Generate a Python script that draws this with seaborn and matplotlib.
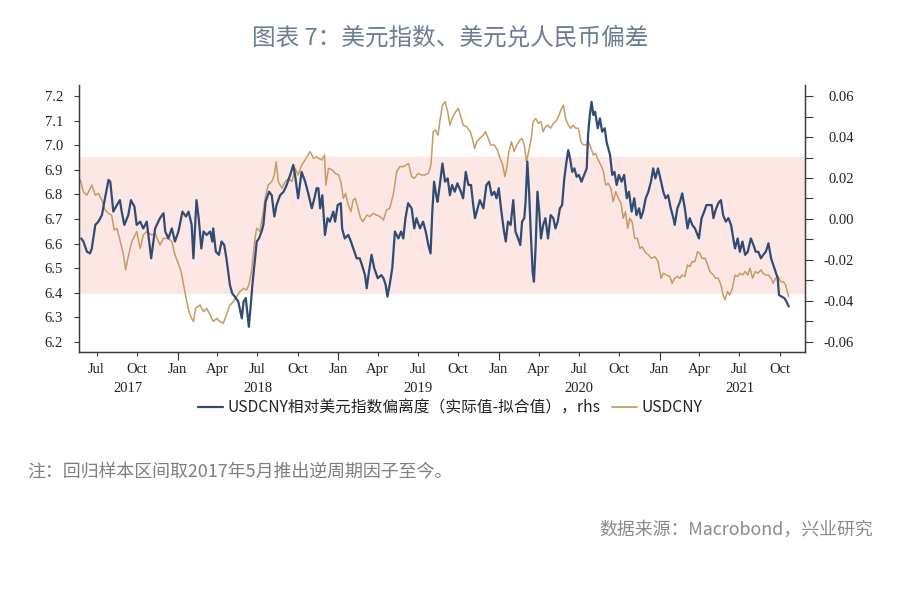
import pandas as pd
import matplotlib
matplotlib.use('Agg')
import matplotlib.pyplot as plt
import matplotlib.dates as mdates
import matplotlib.transforms as mtransforms
from matplotlib.ticker import MultipleLocator, FormatStrFormatter, NullFormatter
from matplotlib.lines import Line2D
import seaborn as sns

# ─── Data ────────────────────────────────────────────────────
# USDCNY deviation vs. dollar-index fit (actual - fitted), right axis
dev_dates = [
    '2017-05-27', '2017-06-01', '2017-06-09', '2017-06-16', '2017-06-20', '2017-06-28',
    '2017-07-05', '2017-07-13', '2017-07-20', '2017-07-28', '2017-08-01', '2017-08-08',
    '2017-08-16', '2017-08-23', '2017-08-27', '2017-09-02', '2017-09-11', '2017-09-17',
    '2017-09-25', '2017-09-30', '2017-10-08', '2017-10-15', '2017-10-23', '2017-11-02',
    '2017-11-11', '2017-11-22', '2017-11-30', '2017-12-04', '2017-12-11', '2017-12-19',
    '2017-12-26', '2018-01-03', '2018-01-12', '2018-01-20', '2018-01-26', '2018-02-02',
    '2018-02-06', '2018-02-13', '2018-02-18', '2018-02-24', '2018-03-01', '2018-03-08',
    '2018-03-16', '2018-03-21', '2018-03-23', '2018-03-29', '2018-04-05', '2018-04-11',
    '2018-04-17', '2018-04-22', '2018-04-26', '2018-04-30', '2018-05-05', '2018-05-11',
    '2018-05-19', '2018-05-27', '2018-05-31', '2018-06-05', '2018-06-09', '2018-06-12',
    '2018-06-17', '2018-06-20', '2018-06-26', '2018-06-30', '2018-07-05', '2018-07-11',
    '2018-07-15', '2018-07-20', '2018-07-28', '2018-08-03', '2018-08-09', '2018-08-14',
    '2018-08-22', '2018-08-30', '2018-09-06', '2018-09-14', '2018-09-21', '2018-09-25',
    '2018-10-02', '2018-10-10', '2018-10-18', '2018-10-25', '2018-11-02', '2018-11-08',
    '2018-11-13', '2018-11-17', '2018-11-21', '2018-11-26', '2018-12-02', '2018-12-08',
    '2018-12-13', '2018-12-21', '2018-12-25', '2018-12-31', '2019-01-07', '2019-01-10',
    '2019-01-16', '2019-01-24', '2019-01-30', '2019-02-07', '2019-02-12', '2019-02-19',
    '2019-02-24', '2019-03-03', '2019-03-07', '2019-03-12', '2019-03-18', '2019-03-24',
    '2019-04-01', '2019-04-09', '2019-04-14', '2019-04-19', '2019-04-23', '2019-04-28',
    '2019-05-04', '2019-05-10', '2019-05-18', '2019-05-24', '2019-05-29', '2019-06-03',
    '2019-06-09', '2019-06-17', '2019-06-23', '2019-06-28', '2019-07-06', '2019-07-13',
    '2019-07-19', '2019-07-25', '2019-07-30', '2019-08-03', '2019-08-07', '2019-08-13',
    '2019-08-15', '2019-08-20', '2019-08-26', '2019-09-01', '2019-09-07', '2019-09-12',
    '2019-09-17', '2019-09-23', '2019-09-29', '2019-10-07', '2019-10-12', '2019-10-18',
    '2019-10-24', '2019-10-30', '2019-11-04', '2019-11-08', '2019-11-14', '2019-11-19',
    '2019-11-27', '2019-12-04', '2019-12-10', '2019-12-16', '2019-12-22', '2019-12-27',
    '2020-01-01', '2020-01-07', '2020-01-13', '2020-01-17', '2020-01-22', '2020-01-28',
    '2020-02-03', '2020-02-08', '2020-02-14', '2020-02-19', '2020-02-23', '2020-02-28',
    '2020-03-02', '2020-03-06', '2020-03-10', '2020-03-14', '2020-03-18', '2020-03-21',
    '2020-03-25', '2020-03-29', '2020-04-02', '2020-04-06', '2020-04-11', '2020-04-16',
    '2020-04-22', '2020-04-28', '2020-05-04', '2020-05-09', '2020-05-14', '2020-05-19',
    '2020-05-24', '2020-05-29', '2020-06-03', '2020-06-07', '2020-06-11', '2020-06-16',
    '2020-06-21', '2020-06-26', '2020-07-01', '2020-07-07', '2020-07-13', '2020-07-19',
    '2020-07-22', '2020-07-26', '2020-07-30', '2020-08-03', '2020-08-07', '2020-08-13',
    '2020-08-18', '2020-08-23', '2020-08-29', '2020-09-02', '2020-09-10', '2020-09-15',
    '2020-09-20', '2020-09-25', '2020-09-30', '2020-10-06', '2020-10-12', '2020-10-18',
    '2020-10-23', '2020-10-29', '2020-11-04', '2020-11-09', '2020-11-15', '2020-11-19',
    '2020-11-24', '2020-11-30', '2020-12-06', '2020-12-12', '2020-12-17', '2020-12-22',
    '2020-12-28', '2021-01-04', '2021-01-09', '2021-01-14', '2021-01-20', '2021-01-26',
    '2021-02-01', '2021-02-04', '2021-02-10', '2021-02-16', '2021-02-21', '2021-02-27',
    '2021-03-05', '2021-03-10', '2021-03-16', '2021-03-22', '2021-03-28', '2021-03-31',
    '2021-04-06', '2021-04-12', '2021-04-17', '2021-04-23', '2021-04-29', '2021-05-03',
    '2021-05-08', '2021-05-14', '2021-05-20', '2021-05-25', '2021-05-31', '2021-06-06',
    '2021-06-12', '2021-06-17', '2021-06-21', '2021-06-27', '2021-07-02', '2021-07-08',
    '2021-07-14', '2021-07-20', '2021-07-27', '2021-08-02', '2021-08-07', '2021-08-13',
    '2021-08-19', '2021-08-24', '2021-08-30', '2021-09-05', '2021-09-11', '2021-09-16',
    '2021-09-21', '2021-09-26', '2021-09-29', '2021-10-05', '2021-10-11', '2021-10-16',
    '2021-10-21',
]
dev_values = [
    -0.0095, -0.0110, -0.0160, -0.0168, -0.0144, -0.0029,
    -0.0013, 0.0019, 0.0101, 0.0191, 0.0182, 0.0036,
    0.0068, 0.0092, 0.0036, -0.0029, 0.0019, 0.0092,
    0.0060, -0.0029, -0.0013, -0.0046, -0.0013, -0.0192,
    -0.0046, 0.0004, 0.0028, -0.0061, -0.0095, -0.0046,
    -0.0110, -0.0061, 0.0036, 0.0012, 0.0036, -0.0029,
    -0.0192, 0.0092, 0.0004, -0.0144, -0.0061, -0.0078,
    -0.0061, -0.0110, -0.0046, -0.0160, -0.0175, -0.0110,
    -0.0127, -0.0192, -0.0257, -0.0322, -0.0362, -0.0379,
    -0.0403, -0.0485, -0.0403, -0.0386, -0.0468, -0.0526,
    -0.0403, -0.0322, -0.0192, -0.0110, -0.0095, -0.0061,
    -0.0029, 0.0084, 0.0133, 0.0116, 0.0012, 0.0068,
    0.0116, 0.0133, 0.0166, 0.0215, 0.0264, 0.0215,
    0.0101, 0.0230, 0.0182, 0.0125, 0.0052, 0.0101,
    0.0150, 0.0150, 0.0052, 0.0116, -0.0078, 0.0004,
    -0.0013, 0.0036, -0.0013, 0.0068, 0.0077, -0.0046,
    -0.0095, -0.0078, -0.0110, -0.0160, -0.0192, -0.0192,
    -0.0224, -0.0274, -0.0338, -0.0257, -0.0175, -0.0240,
    -0.0289, -0.0274, -0.0289, -0.0322, -0.0379, -0.0322,
    -0.0240, -0.0061, -0.0095, -0.0061, -0.0095, 0.0004,
    0.0077, 0.0052, -0.0046, 0.0004, -0.0046, -0.0013,
    -0.0061, -0.0127, -0.0168, 0.0036, 0.0182, 0.0101,
    0.0084, 0.0166, 0.0271, 0.0182, 0.0198, 0.0116,
    0.0166, 0.0133, 0.0174, 0.0133, 0.0101, 0.0230,
    0.0166, 0.0166, 0.0068, 0.0004, 0.0052, 0.0092,
    0.0052, 0.0166, 0.0182, 0.0116, 0.0133, 0.0101,
    0.0150, 0.0036, -0.0061, -0.0110, -0.0013, -0.0029,
    0.0092, -0.0061, -0.0095, -0.0127, -0.0013, 0.0004,
    0.0084, 0.0280, 0.0133, -0.0078, -0.0257, -0.0306,
    -0.0127, 0.0133, 0.0036, -0.0095, -0.0029, 0.0004,
    -0.0095, 0.0019, 0.0004, -0.0046, -0.0013, 0.0052,
    0.0068, 0.0198, 0.0280, 0.0336, 0.0296, 0.0230,
    0.0247, 0.0206, 0.0215, 0.0182, 0.0215, 0.0247,
    0.0409, 0.0508, 0.0572, 0.0508, 0.0523, 0.0443,
    0.0491, 0.0426, 0.0443, 0.0377, 0.0312, 0.0215,
    0.0230, 0.0166, 0.0215, 0.0182, 0.0215, 0.0101,
    0.0133, 0.0036, 0.0101, 0.0019, 0.0052, 0.0004,
    0.0036, 0.0101, 0.0133, 0.0182, 0.0247, 0.0198,
    0.0247, 0.0182, 0.0133, 0.0101, 0.0116, 0.0052,
    0.0004, -0.0029, 0.0052, 0.0084, 0.0125, 0.0052,
    -0.0046, 0.0004, -0.0029, -0.0046, -0.0078, -0.0095,
    0.0004, 0.0036, 0.0068, 0.0068, 0.0068, 0.0004,
    0.0044, 0.0077, 0.0092, 0.0019, -0.0013, 0.0004,
    -0.0029, -0.0095, -0.0144, -0.0095, -0.0160, -0.0110,
    -0.0175, -0.0160, -0.0095, -0.0127, -0.0160, -0.0160,
    -0.0192, -0.0175, -0.0160, -0.0119, -0.0192, -0.0224,
    -0.0257, -0.0289, -0.0371, -0.0379, -0.0386, -0.0403,
    -0.0427,
]

# USDCNY spot, left axis
cny_dates = [
    '2017-05-25', '2017-06-01', '2017-06-09', '2017-06-20', '2017-06-28', '2017-07-05',
    '2017-07-13', '2017-07-20', '2017-07-28', '2017-08-04', '2017-08-10', '2017-08-16',
    '2017-08-23', '2017-08-31', '2017-09-05', '2017-09-10', '2017-09-19', '2017-09-30',
    '2017-10-08', '2017-10-15', '2017-10-23', '2017-11-03', '2017-11-11', '2017-11-22',
    '2017-11-30', '2017-12-11', '2017-12-19', '2017-12-26', '2018-01-04', '2018-01-09',
    '2018-01-14', '2018-01-22', '2018-01-27', '2018-02-02', '2018-02-06', '2018-02-11',
    '2018-02-21', '2018-03-01', '2018-03-08', '2018-03-16', '2018-03-23', '2018-03-31',
    '2018-04-07', '2018-04-15', '2018-04-22', '2018-04-30', '2018-05-08', '2018-05-15',
    '2018-05-23', '2018-05-31', '2018-06-07', '2018-06-12', '2018-06-18', '2018-06-26',
    '2018-06-30', '2018-07-07', '2018-07-15', '2018-07-19', '2018-07-26', '2018-08-03',
    '2018-08-09', '2018-08-13', '2018-08-18', '2018-08-26', '2018-09-03', '2018-09-10',
    '2018-09-18', '2018-09-25', '2018-10-02', '2018-10-10', '2018-10-18', '2018-10-29',
    '2018-11-06', '2018-11-13', '2018-11-17', '2018-11-25', '2018-12-01', '2018-12-04',
    '2018-12-10', '2018-12-18', '2018-12-25', '2019-01-02', '2019-01-07', '2019-01-13',
    '2019-01-18', '2019-01-24', '2019-01-30', '2019-02-04', '2019-02-09', '2019-02-15',
    '2019-02-21', '2019-02-26', '2019-03-07', '2019-03-14', '2019-03-22', '2019-03-29',
    '2019-04-06', '2019-04-14', '2019-04-21', '2019-04-28', '2019-05-06', '2019-05-14',
    '2019-05-21', '2019-05-29', '2019-06-05', '2019-06-10', '2019-06-17', '2019-06-23',
    '2019-07-02', '2019-07-09', '2019-07-17', '2019-07-25', '2019-07-31', '2019-08-05',
    '2019-08-10', '2019-08-16', '2019-08-20', '2019-08-26', '2019-09-01', '2019-09-07',
    '2019-09-12', '2019-09-17', '2019-09-23', '2019-10-01', '2019-10-07', '2019-10-12',
    '2019-10-20', '2019-10-28', '2019-11-02', '2019-11-07', '2019-11-12', '2019-11-19',
    '2019-11-27', '2019-12-02', '2019-12-08', '2019-12-14', '2019-12-22', '2019-12-29',
    '2020-01-04', '2020-01-10', '2020-01-15', '2020-01-19', '2020-01-24', '2020-01-30',
    '2020-02-05', '2020-02-11', '2020-02-18', '2020-02-23', '2020-02-28', '2020-03-04',
    '2020-03-09', '2020-03-15', '2020-03-19', '2020-03-25', '2020-03-31', '2020-04-06',
    '2020-04-11', '2020-04-16', '2020-04-22', '2020-04-28', '2020-05-04', '2020-05-09',
    '2020-05-14', '2020-05-23', '2020-05-27', '2020-06-01', '2020-06-07', '2020-06-13',
    '2020-06-18', '2020-06-24', '2020-06-30', '2020-07-06', '2020-07-11', '2020-07-17',
    '2020-07-23', '2020-07-29', '2020-08-03', '2020-08-08', '2020-08-14', '2020-08-20',
    '2020-08-26', '2020-08-31', '2020-09-06', '2020-09-12', '2020-09-17', '2020-09-23',
    '2020-09-29', '2020-10-05', '2020-10-10', '2020-10-15', '2020-10-20', '2020-10-25',
    '2020-10-30', '2020-11-05', '2020-11-11', '2020-11-17', '2020-11-22', '2020-11-28',
    '2020-12-06', '2020-12-13', '2020-12-21', '2020-12-28', '2021-01-04', '2021-01-09',
    '2021-01-16', '2021-01-24', '2021-01-29', '2021-02-04', '2021-02-10', '2021-02-16',
    '2021-02-21', '2021-02-27', '2021-03-05', '2021-03-10', '2021-03-16', '2021-03-22',
    '2021-03-28', '2021-04-02', '2021-04-07', '2021-04-14', '2021-04-20', '2021-04-25',
    '2021-05-03', '2021-05-08', '2021-05-14', '2021-05-20', '2021-05-25', '2021-05-29',
    '2021-06-04', '2021-06-09', '2021-06-15', '2021-06-21', '2021-06-27', '2021-07-02',
    '2021-07-08', '2021-07-14', '2021-07-20', '2021-07-25', '2021-07-31', '2021-08-06',
    '2021-08-12', '2021-08-19', '2021-08-24', '2021-08-30', '2021-09-05', '2021-09-11',
    '2021-09-16', '2021-09-21', '2021-09-27', '2021-10-03', '2021-10-09', '2021-10-14',
    '2021-10-19', '2021-10-21',
]
cny_values = [
    6.859, 6.810, 6.797, 6.838, 6.797, 6.804,
    6.777, 6.737, 6.723, 6.716, 6.655, 6.662,
    6.615, 6.554, 6.493, 6.540, 6.608, 6.649,
    6.580, 6.635, 6.649, 6.635, 6.642, 6.594,
    6.621, 6.621, 6.608, 6.554, 6.513, 6.486,
    6.438, 6.364, 6.323, 6.296, 6.283, 6.337,
    6.350, 6.323, 6.337, 6.310, 6.283, 6.296,
    6.283, 6.276, 6.310, 6.350, 6.364, 6.384,
    6.405, 6.418, 6.411, 6.432, 6.486, 6.621,
    6.662, 6.649, 6.730, 6.784, 6.838, 6.852,
    6.879, 6.933, 6.852, 6.825, 6.852, 6.865,
    6.852, 6.906, 6.879, 6.920, 6.940, 6.974,
    6.947, 6.953, 6.947, 6.940, 6.960, 6.838,
    6.906, 6.900, 6.886, 6.879, 6.852, 6.784,
    6.804, 6.757, 6.730, 6.777, 6.784, 6.743,
    6.703, 6.689, 6.716, 6.710, 6.723, 6.716,
    6.710, 6.696, 6.737, 6.743, 6.797, 6.892,
    6.913, 6.913, 6.920, 6.926, 6.872, 6.865,
    6.886, 6.879, 6.879, 6.886, 6.920, 7.055,
    7.062, 7.041, 7.096, 7.163, 7.177, 7.136,
    7.082, 7.109, 7.130, 7.150, 7.116, 7.082,
    7.075, 7.055, 7.028, 6.987, 7.014, 7.028,
    7.041, 7.055, 7.028, 7.001, 7.001, 6.980,
    6.947, 6.920, 6.872, 6.906, 6.974, 7.014,
    6.974, 7.001, 7.021, 7.028, 7.001, 6.933,
    6.974, 7.028, 7.096, 7.109, 7.089, 7.096,
    7.055, 7.075, 7.082, 7.069, 7.089, 7.096,
    7.109, 7.150, 7.163, 7.109, 7.082, 7.069,
    7.082, 7.069, 7.069, 7.014, 7.001, 7.001,
    7.014, 6.987, 6.960, 6.967, 6.940, 6.920,
    6.892, 6.838, 6.845, 6.825, 6.770, 6.811,
    6.784, 6.764, 6.703, 6.730, 6.662, 6.703,
    6.689, 6.621, 6.621, 6.580, 6.587, 6.567,
    6.554, 6.540, 6.547, 6.527, 6.459, 6.479,
    6.472, 6.466, 6.438, 6.459, 6.466, 6.459,
    6.472, 6.466, 6.513, 6.506, 6.527, 6.527,
    6.567, 6.560, 6.540, 6.540, 6.513, 6.486,
    6.472, 6.459, 6.459, 6.432, 6.391, 6.371,
    6.405, 6.391, 6.418, 6.472, 6.466, 6.479,
    6.472, 6.486, 6.472, 6.500, 6.459, 6.486,
    6.479, 6.493, 6.479, 6.472, 6.472, 6.459,
    6.438, 6.459, 6.466, 6.445, 6.445, 6.432,
    6.398, 6.384,
]

band_lo, band_hi = 6.395, 6.952          # pink shaded range, lhs units
lhs_mid, rhs_per_lhs = 6.7, 0.12         # rhs 0.00 sits at lhs 6.7; 0.12 rhs per 1.0 lhs
lhs_lim = (6.159, 7.245)
x_lim = ('2017-05-22', '2021-11-27')
years = [2017, 2018, 2019, 2020, 2021]

title = '图表 7：美元指数、美元兑人民币偏差'
dev_label = 'USDCNY相对美元指数偏离度（实际值-拟合值），rhs'
cny_label = 'USDCNY'
note = '注：回归样本区间取2017年5月推出逆周期因子至今。'
source = '数据来源：Macrobond，兴业研究'

blue = '#2f4c74'
tan = '#c99a63'
band_color = '#fce7e5'
spine_color = '#3a3a3a'
serif = 'Liberation Serif'

# ─── Style ───────────────────────────────────────────────────
sns.set_theme(style='white')
plt.rcParams['font.family'] = ['Noto Sans CJK SC', 'DejaVu Sans']
plt.rcParams['axes.unicode_minus'] = False

dev = pd.DataFrame({'date': pd.to_datetime(dev_dates), 'value': dev_values})
cny = pd.DataFrame({'date': pd.to_datetime(cny_dates), 'value': cny_values})

fig = plt.figure(figsize=(9, 5.91), dpi=100)
ax = fig.add_axes([0.0878, 0.4044, 0.8066, 0.4518])
ax2 = ax.twinx()

ax.axhspan(band_lo, band_hi, color=band_color, lw=0, zorder=0)
sns.lineplot(data=cny, x='date', y='value', ax=ax, color=tan, lw=1.1)
sns.lineplot(data=dev, x='date', y='value', ax=ax2, color=blue, lw=1.6)

ax.set_xlim(pd.Timestamp(x_lim[0]), pd.Timestamp(x_lim[1]))
ax.set_ylim(*lhs_lim)
ax2.set_ylim((lhs_lim[0] - lhs_mid) * rhs_per_lhs, (lhs_lim[1] - lhs_mid) * rhs_per_lhs)
for a in (ax, ax2):
    a.set_xlabel('')
    a.set_ylabel('')
    a.grid(False)
    a.spines['top'].set_visible(False)
    for s in ('left', 'right', 'bottom'):
        a.spines[s].set_color(spine_color)
        a.spines[s].set_linewidth(0.9)

# left axis
ax.yaxis.set_major_locator(MultipleLocator(0.1))
ax.yaxis.set_major_formatter(FormatStrFormatter('%.1f'))
ax.tick_params(axis='y', which='major', left=True, direction='out', length=3.6, width=0.8,
               color=spine_color, pad=8, labelsize=10.5, labelcolor='#222222',
               labelfontfamily=serif)

# right axis
ax2.yaxis.set_major_locator(MultipleLocator(0.02))
ax2.yaxis.set_minor_locator(MultipleLocator(0.01))
ax2.yaxis.set_major_formatter(FormatStrFormatter('%.2f'))
ax2.tick_params(axis='y', which='both', right=True, direction='out', length=6, width=0.8,
                color=spine_color)
ax2.tick_params(axis='y', which='major', pad=29, labelsize=10.5, labelcolor='#222222',
                labelfontfamily=serif)
for lab in ax2.get_yticklabels():
    lab.set_horizontalalignment('right')

# x axis: long ticks at year starts, short quarterly ticks with month names
ax.xaxis.set_major_locator(mdates.YearLocator())
ax.xaxis.set_major_formatter(NullFormatter())
ax.xaxis.set_minor_locator(mdates.MonthLocator(bymonth=[1, 4, 7, 10]))
ax.xaxis.set_minor_formatter(mdates.DateFormatter('%b'))
ax.xaxis.remove_overlapping_locs = False
ax.tick_params(axis='x', which='major', bottom=True, direction='out', length=6, width=0.8,
               color=spine_color)
ax.tick_params(axis='x', which='minor', bottom=True, direction='out', length=3, width=0.8,
               color=spine_color, pad=5, labelsize=10.5, labelcolor='#222222',
               labelfontfamily=serif)

xmin, xmax = ax.get_xlim()
trans = mtransforms.blended_transform_factory(ax.transData, ax.transAxes)
for yr in years:
    start = max(mdates.date2num(pd.Timestamp(f'{yr}-01-01')), xmin)
    end = mdates.date2num(pd.Timestamp(f'{yr}-12-31'))
    ax.text((start + end) / 2, -0.138, str(yr), transform=trans, ha='center', va='center',
            fontsize=10.5, color='#222222', fontfamily=serif)

for a in (ax, ax2):
    if a.get_legend() is not None:
        a.get_legend().remove()

handles = [Line2D([], [], color=blue, lw=1.6), Line2D([], [], color=tan, lw=1.3)]
fig.legend(handles, [dev_label, cny_label], loc='center', bbox_to_anchor=(0.5, 0.31),
           ncol=2, frameon=False, fontsize=11.3, handlelength=1.6, handletextpad=0.3,
           columnspacing=0.7, labelcolor='#222222')

# ─── Title and notes ─────────────────────────────────────────
fig.text(0.5, 1 - 38 / 591, title, ha='center', va='center', fontsize=17, color='#6b7d95')
fig.text(27 / 900, 1 - 472 / 591, note, ha='left', va='center', fontsize=12.9, color='#7f7f7f')
fig.text(873 / 900, 1 - 530 / 591, source, ha='right', va='center', fontsize=12.9,
         color='#8a8a8a')

fig.savefig('out.png', dpi=100)
plt.close(fig)
